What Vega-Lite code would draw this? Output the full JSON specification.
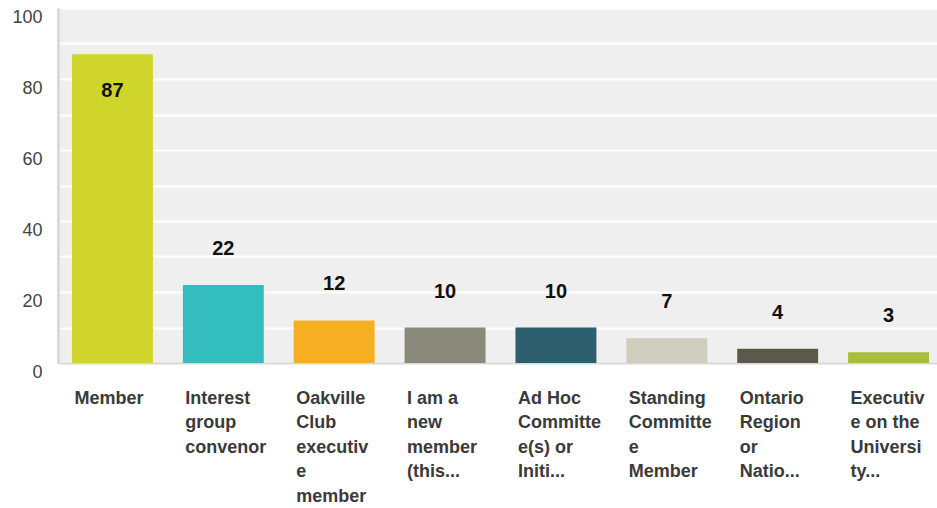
{
  "$schema": "https://vega.github.io/schema/vega-lite/v6.json",
  "autosize": "none",
  "padding": {"left": 58, "top": 8, "right": 0, "bottom": 145},
  "width": 879,
  "height": 355,
  "config": {
    "font": "Liberation Sans",
    "view": {"fill": "#efefef", "stroke": null}
  },
  "data": {
    "values": [
      {"role": "Member", "count": 87},
      {"role": "Interest group convenor", "count": 22},
      {"role": "Oakville Club executive member", "count": 12},
      {"role": "I am a new member (this...", "count": 10},
      {"role": "Ad Hoc Committee(s) or Initi...", "count": 10},
      {"role": "Standing Committee Member", "count": 7},
      {"role": "Ontario Region or Natio...", "count": 4},
      {"role": "Executive on the University...", "count": 3}
    ]
  },
  "encoding": {
    "x": {
      "field": "role",
      "type": "nominal",
      "sort": null,
      "scale": {"range": [0, 885], "paddingInner": 0.27, "paddingOuter": 0.126},
      "axis": {
        "title": null,
        "labelAngle": 0,
        "labelAlign": "left",
        "labelBaseline": "top",
        "labelOffset": -38,
        "labelPadding": 26,
        "labelFontSize": 18,
        "labelFontWeight": "bold",
        "labelColor": "#3a3a3a",
        "labelLineHeight": 24.5,
        "labelLimit": 0,
        "labelOverlap": false,
        "labelBound": false,
        "ticks": false,
        "domainColor": "#d8d8d8",
        "domainWidth": 2,
        "labelExpr": "{'Member':['Member'],'Interest group convenor':['Interest','group','convenor'],'Oakville Club executive member':['Oakville','Club','executiv','e','member'],'I am a new member (this...':['I am a','new','member','(this...'],'Ad Hoc Committee(s) or Initi...':['Ad Hoc','Committe','e(s) or','Initi...'],'Standing Committee Member':['Standing','Committe','e','Member'],'Ontario Region or Natio...':['Ontario','Region','or','Natio...'],'Executive on the University...':['Executiv','e on the','Universi','ty...']}[datum.value]"
      }
    },
    "y": {
      "field": "count",
      "type": "quantitative",
      "scale": {"domain": [0, 100], "nice": false},
      "axis": {
        "title": null,
        "values": [0, 10, 20, 30, 40, 50, 60, 70, 80, 90, 100],
        "labelExpr": "datum.value % 20 == 0 ? datum.label : ''",
        "gridColor": "#ffffff",
        "gridWidth": 2,
        "ticks": false,
        "domainColor": "#dadada",
        "domainWidth": 3,
        "labelFontSize": 18,
        "labelColor": "#444444",
        "labelPadding": 16,
        "labelOffset": 9
      }
    }
  },
  "layer": [
    {
      "mark": {"type": "bar"},
      "encoding": {
        "color": {
          "field": "role",
          "type": "nominal",
          "sort": null,
          "legend": null,
          "scale": {"range": ["#cfd52a", "#33bdbf", "#f6ae22", "#8a8a7b", "#2d5f6e", "#cfcdbd", "#5b5a4a", "#a8bd3a"]}
        }
      }
    },
    {
      "transform": [{"filter": "datum.count > 80"}],
      "mark": {"type": "text", "dy": 37, "fontSize": 20, "fontWeight": "bold", "color": "#111111", "baseline": "middle"},
      "encoding": {"text": {"field": "count", "type": "quantitative"}}
    },
    {
      "transform": [{"filter": "datum.count <= 80"}],
      "mark": {"type": "text", "dy": -36, "fontSize": 20, "fontWeight": "bold", "color": "#111111", "baseline": "middle"},
      "encoding": {"text": {"field": "count", "type": "quantitative"}}
    }
  ]
}
